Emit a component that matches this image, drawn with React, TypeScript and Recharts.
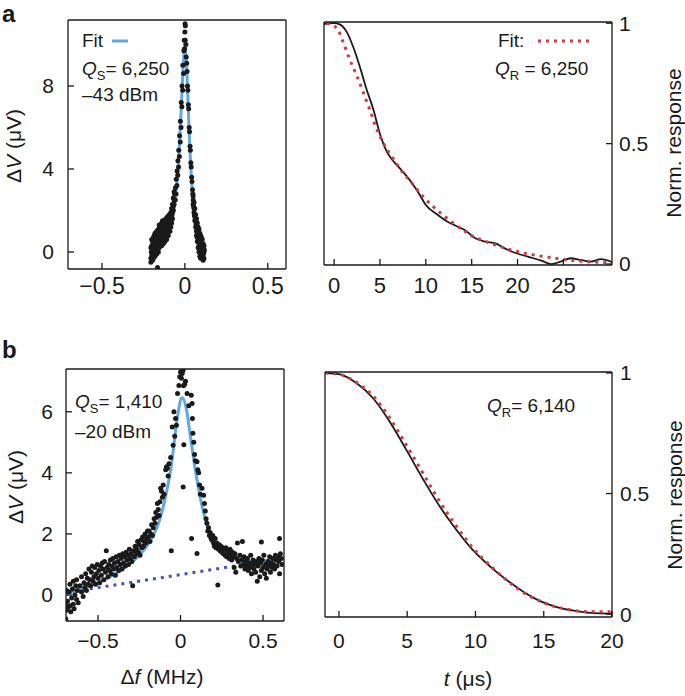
import React from "react";
import { ComposedChart, Scatter, Line, XAxis, YAxis } from "recharts";

type Pt = [number, number];

// ---- panel a, left: weak drive (-43 dBm), dV vs detuning (MHz)
const weakDrivePoints: Pt[] = [
  [-0.205, -0.3], [-0.205, 0.2], [-0.205, -0.5],
  [-0.2, 0.3], [-0.2, -0.2], [-0.2, 0.6],
  [-0.195, -0.4], [-0.195, 0.1], [-0.195, 0.5],
  [-0.19, 0.0], [-0.19, 0.7], [-0.19, -0.3],
  [-0.185, 0.4], [-0.185, -0.1], [-0.185, 0.8],
  [-0.18, 0.2], [-0.18, 0.9], [-0.18, -0.2],
  [-0.175, 0.5], [-0.175, 0.0], [-0.175, 0.7],
  [-0.17, 0.3], [-0.17, 1.0], [-0.17, -0.1],
  [-0.165, -0.75], [-0.165, 0.6], [-0.165, 0.2],
  [-0.16, 0.4], [-0.16, 1.1], [-0.16, 0.0],
  [-0.155, 0.8], [-0.155, 0.2], [-0.155, 1.3],
  [-0.15, 0.5], [-0.15, 1.0], [-0.15, 0.3],
  [-0.145, 0.9], [-0.145, 0.4], [-0.145, 1.2],
  [-0.14, 0.6], [-0.14, 1.4], [-0.14, 0.3],
  [-0.135, 1.0], [-0.135, 1.5], [-0.135, 0.5],
  [-0.13, 0.7], [-0.13, 1.2], [-0.13, 0.4],
  [-0.125, 1.1], [-0.125, 0.6], [-0.125, 1.5],
  [-0.12, 0.8], [-0.12, 1.3], [-0.12, 0.5],
  [-0.115, 1.2], [-0.115, 0.7], [-0.115, 1.6],
  [-0.11, 0.9], [-0.11, 1.4], [-0.11, 0.6],
  [-0.105, 1.3], [-0.105, 0.8], [-0.105, 1.7],
  [-0.1, 1.1], [-0.1, 1.6], [-0.1, 0.8],
  [-0.095, 1.4], [-0.095, 1.0], [-0.095, 1.8],
  [-0.09, 1.2], [-0.09, 1.7], [-0.09, 1.0],
  [-0.085, 1.5], [-0.085, 1.9], [-0.085, 1.2],
  [-0.08, 1.7], [-0.08, 1.4], [-0.08, 2.1],
  [-0.075, 1.9], [-0.075, 2.3], [-0.075, 1.6],
  [-0.07, 2.2], [-0.07, 2.0], [-0.07, 2.6],
  [-0.065, 2.5], [-0.065, 2.3], [-0.065, 2.9],
  [-0.2025, 0.0], [-0.1975, -0.1], [-0.1925, 0.35], [-0.1875, 0.15], [-0.1825, 0.55],
  [-0.1775, 0.3], [-0.1725, 0.6], [-0.1675, 0.45], [-0.1625, 0.75], [-0.1575, 0.5],
  [-0.1525, 0.7], [-0.1475, 0.65], [-0.1425, 0.95], [-0.1375, 0.8], [-0.1325, 0.95],
  [-0.1275, 0.9], [-0.1225, 1.05], [-0.1175, 1.0], [-0.1125, 1.1], [-0.1075, 1.05],
  [-0.1025, 1.35], [-0.0975, 1.25], [-0.0925, 1.45], [-0.0875, 1.4], [-0.0825, 1.65],
  [-0.0775, 1.8], [-0.0725, 2.05],
  [-0.062, 2.8], [-0.058, 2.5],
  [-0.057, 3.1], [-0.053, 2.8],
  [-0.052, 3.5], [-0.048, 3.2],
  [-0.047, 3.9], [-0.043, 3.7],
  [-0.042, 4.4], [-0.038, 4.1],
  [-0.037, 4.9], [-0.033, 4.6],
  [-0.032, 5.6], [-0.028, 5.3],
  [-0.027, 6.3], [-0.023, 6.0],
  [-0.022, 7.2], [-0.018, 7.0],
  [-0.017, 8.0], [-0.013, 7.8],
  [-0.012, 9.0], [-0.008, 8.6],
  [-0.006, 9.7], [-0.004, 10.2],
  [0, 10.6], [0.002, 10.2], [0.001, 11.0], [-0.002, 9.8], [0.003, 10.9],
  [0.006, 10.0], [0.008, 9.4],
  [0.011, 9.1], [0.013, 8.7],
  [0.016, 8.0], [0.018, 7.8],
  [0.021, 7.1], [0.023, 6.9],
  [0.026, 6.0], [0.028, 5.8],
  [0.031, 5.1], [0.033, 4.9],
  [0.036, 4.3], [0.038, 4.1],
  [0.041, 3.6], [0.043, 3.4],
  [0.046, 3.0], [0.048, 2.8],
  [0.05, 2.5], [0.05, 2.3], [0.05, 2.7],
  [0.055, 2.1], [0.055, 1.9], [0.055, 2.4],
  [0.06, 1.8], [0.06, 1.5], [0.06, 2.1],
  [0.065, 1.5], [0.065, 1.2], [0.065, 1.8],
  [0.07, 1.3], [0.07, 1.0], [0.07, 1.6], [0.07, 0.8],
  [0.075, 1.1], [0.075, 0.7], [0.075, 1.4], [0.075, 0.5],
  [0.08, 0.9], [0.08, 0.5], [0.08, 1.2], [0.08, 0.2],
  [0.085, 0.7], [0.085, 0.3], [0.085, 1.1], [0.085, 0.0],
  [0.09, 0.6], [0.09, 0.1], [0.09, 0.9], [0.09, -0.2],
  [0.095, 0.5], [0.095, 0.0], [0.095, 0.8], [0.095, -0.3],
  [0.1, 0.4], [0.1, -0.2], [0.1, 0.7], [0.1, 0.1],
  [0.105, 0.3], [0.105, -0.3], [0.105, 0.6], [0.105, 0.0],
  [0.11, 0.2], [0.11, -0.4], [0.11, 0.4],
  [0.115, 0.0], [0.115, -0.3], [0.115, 0.3],
  [0.0525, 2.2], [0.0575, 1.75], [0.0625, 1.6], [0.0675, 1.35], [0.0725, 1.1],
  [0.0775, 0.9], [0.0825, 0.7], [0.0875, 0.45], [0.0925, 0.35], [0.0975, 0.25],
  [0.1025, 0.15], [0.1075, 0.1], [0.1125, -0.1], [0.1175, 0.1],
];

const weakDriveFit: Pt[] = [
  [-0.193, 0.0], [-0.18, 0.12], [-0.16, 0.3], [-0.14, 0.5], [-0.12, 0.75],
  [-0.1, 1.05], [-0.08, 1.6], [-0.06, 2.5], [-0.04, 4.2], [-0.03, 5.6],
  [-0.02, 7.3], [-0.01, 9.0], [0.0, 9.9], [0.01, 9.0], [0.02, 7.0],
  [0.03, 5.0], [0.04, 3.5], [0.05, 2.4], [0.06, 1.7], [0.07, 1.2],
  [0.08, 0.85], [0.09, 0.6], [0.1, 0.42], [0.108, 0.3],
];

// ---- panel a, right: ring-down, normalised response vs t (us)
const weakRingdown: Pt[] = [
  [-1.1, 0.996], [0, 1.0], [0.6, 0.995], [1.37, 0.964], [2.1, 0.9],
  [2.8, 0.82], [3.5, 0.73], [4.3, 0.64], [5.0, 0.54], [5.7, 0.47],
  [6.4, 0.43], [7.1, 0.4], [7.8, 0.37], [8.6, 0.33], [9.3, 0.29],
  [10.0, 0.245], [11.1, 0.21], [12.2, 0.18], [13.2, 0.16], [14.3, 0.14],
  [15.4, 0.107], [16.5, 0.093], [17.6, 0.086], [18.6, 0.065], [19.7, 0.047],
  [21.2, 0.03], [22.6, 0.014], [23.7, 0.0], [24.7, 0.01], [25.8, 0.024],
  [26.9, 0.017], [28.0, 0.01], [29.1, 0.02], [30.3, 0.008],
];

const weakRingdownFit: Pt[] = [
  [-0.8, 1.0], [0.3, 0.98], [1.0, 0.92], [1.7, 0.85], [2.5, 0.78],
  [3.2, 0.71], [3.9, 0.64], [4.6, 0.565], [5.4, 0.5], [6.4, 0.44],
  [7.5, 0.38], [8.6, 0.33], [9.7, 0.28], [10.8, 0.238], [11.9, 0.203],
  [13.0, 0.169], [14.1, 0.14], [15.2, 0.113], [16.3, 0.097], [17.6, 0.079],
  [19.1, 0.061], [20.5, 0.047], [21.9, 0.037], [23.4, 0.028], [24.8, 0.02],
  [26.2, 0.014], [27.6, 0.01], [29.8, 0.006],
];

// ---- panel b, left: strong drive (-20 dBm)
const strongDrivePoints: Pt[] = [
  [-0.695, -0.3], [-0.69, -0.5], [-0.685, -0.2], [-0.68, -0.4], [-0.675, 0.1],
  [-0.67, -0.35], [-0.665, -0.55], [-0.66, -0.1], [-0.655, 0.2], [-0.65, -0.3],
  [-0.645, -0.45], [-0.64, 0.0], [-0.635, 0.3], [-0.63, -0.15], [-0.625, 0.15],
  [-0.62, -0.25], [-0.695, -0.78], [-0.69, 0.15], [-0.67, 0.35], [-0.65, 0.45],
  [-0.63, 0.5], [-0.61, 0.3], [-0.6, 0.6], [-0.6, 0.1], [-0.59, -0.05],
  [-0.585, 0.4], [-0.58, 0.25], [-0.575, 0.7], [-0.57, 0.15], [-0.565, 0.55],
  [-0.56, 0.35], [-0.555, 0.85], [-0.55, 0.5], [-0.545, 0.3], [-0.54, 0.75],
  [-0.535, 0.95], [-0.53, 0.45], [-0.525, 0.6], [-0.52, 0.9], [-0.515, 0.35],
  [-0.51, 0.7], [-0.505, 1.0], [-0.5, 0.55], [-0.495, 0.8], [-0.49, 0.4],
  [-0.485, 0.95], [-0.48, 0.65], [-0.475, 1.05], [-0.47, 0.85], [-0.465, 0.5],
  [-0.46, 1.1], [-0.455, 0.75], [-0.45, 1.45], [-0.445, 0.9], [-0.44, 0.6],
  [-0.435, 1.0], [-0.43, 0.8], [-0.425, 1.15], [-0.42, 0.7], [-0.415, 0.95],
  [-0.41, 1.2], [-0.405, 0.85], [-0.4, 1.05], [-0.395, 0.65], [-0.39, 1.25],
  [-0.385, 0.9], [-0.38, 1.1], [-0.375, 0.8], [-0.37, 1.3], [-0.365, 1.0],
  [-0.36, 1.2], [-0.355, 0.85], [-0.35, 1.35], [-0.345, 1.05], [-0.34, 1.25],
  [-0.335, 0.95], [-0.33, 1.4], [-0.325, 1.15], [-0.32, 1.3], [-0.315, 1.0],
  [-0.31, 1.5], [-0.305, 1.2], [-0.3, 1.35], [-0.295, 1.1], [-0.29, 0.3],
  [-0.285, 1.45], [-0.28, 1.25], [-0.275, 1.6], [-0.27, 1.35], [-0.265, 1.5],
  [-0.26, 1.75], [-0.255, 1.4], [-0.25, 1.65], [-0.245, 1.3], [-0.24, 1.8],
  [-0.235, 1.55], [-0.23, 1.9], [-0.225, 1.6], [-0.22, 1.75], [-0.215, 2.0],
  [-0.21, 1.7], [-0.205, 1.85], [-0.2, 2.1],
  [-0.195, 1.9], [-0.19, 2.1], [-0.185, 1.75], [-0.18, 2.0], [-0.175, 2.3],
  [-0.17, 1.95], [-0.165, 2.2], [-0.16, 2.5], [-0.155, 2.35], [-0.15, 2.7],
  [-0.145, 2.55], [-0.14, 3.0], [-0.135, 2.8], [-0.13, 2.6], [-0.125, 3.05],
  [-0.12, 3.5], [-0.115, 3.4], [-0.11, 3.2], [-0.105, 3.6], [-0.1, 3.3],
  [-0.09, 4.1], [-0.085, 4.2], [-0.08, 4.15], [-0.075, 3.9], [-0.07, 4.3],
  [-0.06, 4.5], [-0.056, 1.45], [-0.05, 5.5], [-0.045, 4.9], [-0.04, 6.0],
  [-0.035, 5.2], [-0.03, 5.78], [-0.025, 5.56], [-0.018, 6.6], [-0.01, 6.86],
  [-0.005, 7.15], [0.0, 7.3], [0.005, 7.1], [0.01, 7.25], [0.015, 7.35],
  [0.018, 6.85], [0.016, 3.54], [0.02, 4.92], [0.025, 6.9], [0.03, 7.0],
  [0.04, 6.6], [0.05, 6.2], [0.065, 6.54], [0.07, 6.27], [0.072, 5.78],
  [0.075, 5.3], [0.08, 5.0], [0.067, 1.85], [0.085, 4.6], [0.09, 4.4],
  [0.1, 4.36], [0.105, 4.1], [0.1, 1.36], [0.11, 4.0], [0.115, 3.6],
  [0.12, 3.3], [0.13, 3.5], [0.14, 3.27], [0.145, 3.0], [0.15, 2.75],
  [0.155, 2.5], [0.16, 2.35], [0.165, 2.1], [0.17, 2.2], [0.175, 1.95],
  [0.18, 2.05], [0.185, 1.85], [0.19, 1.8], [0.195, 1.95], [0.2, 1.7],
  [0.205, 1.6], [0.21, 1.85], [0.215, 1.55], [0.22, 1.7], [0.226, 0.33],
  [0.23, 1.5], [0.235, 1.65], [0.24, 1.45], [0.245, 1.6], [0.25, 1.4],
  [0.255, 1.55], [0.26, 1.35], [0.265, 1.5], [0.27, 1.3], [0.275, 1.55],
  [0.28, 1.25], [0.285, 1.45], [0.29, 1.35], [0.295, 1.2], [0.3, 1.5],
  [0.305, 1.3], [0.31, 1.15], [0.315, 1.4], [0.32, 1.25], [0.325, 0.9],
  [0.33, 1.35], [0.335, 0.75], [0.34, 1.2], [0.345, 1.7], [0.35, 1.1],
  [0.36, 1.3], [0.365, 0.95], [0.37, 1.15], [0.375, 1.75], [0.38, 1.0],
  [0.385, 1.25], [0.39, 0.85], [0.395, 1.1], [0.4, 0.95], [0.405, 1.2],
  [0.41, 0.8], [0.415, 1.05], [0.42, 0.9], [0.425, 1.3], [0.43, 0.7],
  [0.435, 1.0], [0.44, 1.15], [0.445, 0.85], [0.45, 1.0], [0.455, 0.75],
  [0.46, 1.1], [0.465, 0.45], [0.47, 0.95], [0.475, 1.2], [0.48, 0.6],
  [0.485, 1.05], [0.49, 0.8], [0.49, 1.74], [0.495, 1.15], [0.5, 0.9],
  [0.505, 1.3], [0.51, 0.7], [0.515, 1.0], [0.52, 0.55], [0.525, 0.85],
  [0.53, 1.1], [0.535, 0.95], [0.54, 1.25], [0.545, 0.75], [0.55, 1.05],
  [0.555, 0.9], [0.56, 1.2], [0.565, 1.0], [0.57, 0.85], [0.575, 1.3],
  [0.58, 1.15], [0.585, 0.95], [0.59, 1.25], [0.595, 1.1], [0.6, 0.7],
  [0.605, 1.35], [0.61, 1.2], [0.615, 1.0], [0.6, 1.85],
];

const strongDriveFit: Pt[] = [
  [-0.694, 0.05], [-0.59, 0.22], [-0.49, 0.43], [-0.39, 0.71], [-0.29, 1.09],
  [-0.23, 1.42], [-0.17, 1.9], [-0.127, 2.45], [-0.087, 3.32], [-0.057, 4.2],
  [-0.027, 5.5], [-0.012, 6.05], [0.003, 6.43], [0.013, 6.46], [0.033, 6.15],
  [0.063, 5.07], [0.093, 3.98], [0.123, 3.1], [0.163, 2.23], [0.213, 1.69],
  [0.273, 1.36], [0.353, 1.18], [0.433, 1.11], [0.513, 1.12], [0.627, 1.21],
];

const strongDriveBackground: Pt[] = [[-0.694, 0.08], [0.627, 1.2]];

// ---- panel b, right: ring-down
const strongRingdown: Pt[] = [
  [-1.0, 0.999], [0, 0.995], [1.3, 0.957], [2.5, 0.895], [3.7, 0.8],
  [4.95, 0.68], [6.2, 0.556], [7.4, 0.445], [8.6, 0.35], [9.8, 0.266],
  [11.1, 0.196], [12.3, 0.141], [13.5, 0.093], [14.7, 0.055], [15.9, 0.03],
  [17.2, 0.014], [18.4, 0.005], [20, 0.002],
];

const strongRingdownFit: Pt[] = [
  [-1.0, 1.0], [0, 0.995], [1.3, 0.96], [2.5, 0.905], [3.7, 0.815],
  [4.95, 0.7], [6.2, 0.58], [7.4, 0.465], [8.6, 0.365], [9.8, 0.275],
  [11.1, 0.2], [12.3, 0.14], [13.5, 0.09], [14.7, 0.055], [15.9, 0.03],
  [17.2, 0.015], [18.4, 0.01], [20, 0.01],
];

const freqTicks = [-0.5, 0, 0.5];
const weakVoltTicks = [0, 4, 8];
const strongVoltTicks = [0, 2, 4, 6];
const weakTimeTicks = [0, 5, 10, 15, 20, 25];
const strongTimeTicks = [0, 5, 10, 15, 20];
const normTicks = [0, 0.5, 1];

const toRows = (pts: Pt[]) => pts.map(([x, v]) => ({ x, v }));

const FONT = '"Liberation Sans", Arial, Helvetica, sans-serif';
const INK = "#1a1a1a";
const FIT_BLUE = "#62a8de";
const FIT_RED = "#d23a3f";
const BASE_BLUE = "#4a53b0";

const fmt = (v: number) => (v < 0 ? `\u2212${Math.abs(v)}` : `${v}`);

type Frame = { x0: number; y0: number; x1: number; y1: number };

const PAD_L = 70;
const PAD_R = 70;
const PAD_T = 30;
const PAD_B = 50;

function Panel(props: {
  frame: Frame;
  xDomain: [number, number];
  yDomain: [number, number];
  xTicks: number[];
  yTicks: number[];
  yRight: boolean;
  xMargin: number;
  yMargin: number;
  xFont: number;
  children: React.ReactNode;
}) {
  const { frame, xDomain, yDomain, xTicks, yTicks, yRight, xMargin, yMargin, xFont } = props;
  const w = frame.x1 - frame.x0 + PAD_L + PAD_R;
  const h = frame.y1 - frame.y0 + PAD_T + PAD_B;
  const line = { stroke: INK, strokeWidth: 1.3 };
  const tickStyle = { fontSize: 21, fill: INK, fontFamily: FONT };
  const xTickStyle = { ...tickStyle, fontSize: xFont };
  return (
    <div style={{ position: "absolute", left: frame.x0 - PAD_L, top: frame.y0 - PAD_T }}>
      <ComposedChart width={w} height={h} margin={{ top: 0, right: 0, bottom: 0, left: 0 }}>
        <XAxis
          xAxisId="b" type="number" dataKey="x" domain={xDomain} allowDataOverflow
          ticks={xTicks} interval={0} orientation="bottom" height={PAD_B}
          tickSize={-6} tickMargin={xMargin} tickFormatter={fmt} tick={xTickStyle}
          axisLine={line} tickLine={line}
        />
        <XAxis
          xAxisId="t" type="number" dataKey="x" domain={xDomain} allowDataOverflow
          ticks={xTicks} interval={0} orientation="top" height={PAD_T}
          tickSize={-6} tick={false} axisLine={line} tickLine={line}
        />
        <YAxis
          yAxisId="l" type="number" dataKey="v" domain={yDomain} allowDataOverflow
          ticks={yTicks} interval={0} orientation="left" width={PAD_L}
          tickSize={-6} tickMargin={yRight ? 0 : yMargin} tickFormatter={fmt}
          tick={yRight ? false : tickStyle} axisLine={line} tickLine={line}
        />
        <YAxis
          yAxisId="r" type="number" dataKey="v" domain={yDomain} allowDataOverflow
          ticks={yTicks} interval={0} orientation="right" width={PAD_R}
          tickSize={-6} tickMargin={yRight ? yMargin : 0} tickFormatter={fmt}
          tick={yRight ? tickStyle : false} axisLine={line} tickLine={line}
        />
        {props.children}
      </ComposedChart>
    </div>
  );
}

const dot = (r: number) => (p: any) => <circle cx={p.cx} cy={p.cy} r={r} fill={INK} />;

export default function App() {
  return (
    <div style={{ position: "absolute", left: 0, top: 0, width: 685, height: 696, background: "#fff", fontFamily: FONT }}>
      <Panel frame={{ x0: 68, y0: 20, x1: 286, y1: 269 }} xDomain={[-0.705, 0.61]} yDomain={[-0.82, 11.18]}
        xTicks={freqTicks} yTicks={weakVoltTicks} yRight={false} xMargin={15} yMargin={20} xFont={23}>
        <Scatter xAxisId="b" yAxisId="l" data={toRows(weakDrivePoints)} dataKey="v" shape={dot(2.5)} isAnimationActive={false} />
        <Line xAxisId="b" yAxisId="l" data={toRows(weakDriveFit)} dataKey="v" type="monotone" stroke={FIT_BLUE}
          strokeWidth={3} dot={false} isAnimationActive={false} />
      </Panel>

      <Panel frame={{ x0: 324, y0: 22, x1: 612, y1: 265 }} xDomain={[-1.1, 30.3]} yDomain={[-0.004, 1.005]}
        xTicks={weakTimeTicks} yTicks={normTicks} yRight={true} xMargin={18} yMargin={13} xFont={22}>
        <Line xAxisId="b" yAxisId="l" data={toRows(weakRingdown)} dataKey="v" type="monotone" stroke={INK}
          strokeWidth={1.8} dot={false} isAnimationActive={false} />
        <Line xAxisId="b" yAxisId="l" data={toRows(weakRingdownFit)} dataKey="v" type="monotone" stroke={FIT_RED}
          strokeWidth={3} strokeDasharray="3 5" dot={false} isAnimationActive={false} />
      </Panel>

      <Panel frame={{ x0: 66, y0: 369, x1: 284, y1: 621 }} xDomain={[-0.694, 0.627]} yDomain={[-0.85, 7.4]}
        xTicks={freqTicks} yTicks={strongVoltTicks} yRight={false} xMargin={18} yMargin={19} xFont={21}>
        <Scatter xAxisId="b" yAxisId="l" data={toRows(strongDrivePoints)} dataKey="v" shape={dot(2.5)} isAnimationActive={false} />
        <Line xAxisId="b" yAxisId="l" data={toRows(strongDriveBackground)} dataKey="v" type="linear" stroke={BASE_BLUE}
          strokeWidth={3} strokeDasharray="3 5" dot={false} isAnimationActive={false} />
        <Line xAxisId="b" yAxisId="l" data={toRows(strongDriveFit)} dataKey="v" type="monotone" stroke={FIT_BLUE}
          strokeWidth={3} dot={false} isAnimationActive={false} />
      </Panel>

      <Panel frame={{ x0: 325, y0: 372, x1: 612, y1: 617 }} xDomain={[-1.02, 20]} yDomain={[-0.012, 1.004]}
        xTicks={strongTimeTicks} yTicks={normTicks} yRight={true} xMargin={22} yMargin={14} xFont={21}>
        <Line xAxisId="b" yAxisId="l" data={toRows(strongRingdown)} dataKey="v" type="monotone" stroke={INK}
          strokeWidth={1.8} dot={false} isAnimationActive={false} />
        <Line xAxisId="b" yAxisId="l" data={toRows(strongRingdownFit)} dataKey="v" type="monotone" stroke={FIT_RED}
          strokeWidth={3} strokeDasharray="3 5" dot={false} isAnimationActive={false} />
      </Panel>

      {/* labels, legends and axis titles */}
      <svg width={685} height={696} style={{ position: "absolute", left: 0, top: 0, pointerEvents: "none" }}
        fontFamily={FONT} fill={INK}>
        <text x={2} y={22} fontSize={24} fontWeight="bold">a</text>
        <text x={2} y={358} fontSize={24} fontWeight="bold">b</text>

        <text x={82} y={47} fontSize={19}>Fit</text>
        <line x1={112} x2={128} y1={41} y2={41} stroke={FIT_BLUE} strokeWidth={3} />
        <text x={82} y={75} fontSize={19}>
          <tspan fontStyle="italic">Q</tspan><tspan fontSize={13} dy={5}>S</tspan><tspan dy={-5}>= 6,250</tspan>
        </text>
        <text x={82} y={101} fontSize={19}>–43 dBm</text>

        <text x={498} y={47} fontSize={19}>Fit:</text>
        <line x1={538} x2={594} y1={41} y2={41} stroke={FIT_RED} strokeWidth={3} strokeDasharray="3 5" />
        <text x={495} y={75} fontSize={19}>
          <tspan fontStyle="italic">Q</tspan><tspan fontSize={13} dy={5}>R</tspan><tspan dy={-5}> = 6,250</tspan>
        </text>

        <text x={75} y={408} fontSize={19}>
          <tspan fontStyle="italic">Q</tspan><tspan fontSize={13} dy={5}>S</tspan><tspan dy={-5}>= 1,410</tspan>
        </text>
        <text x={75} y={438} fontSize={19}>–20 dBm</text>

        <text x={487} y={412} fontSize={19}>
          <tspan fontStyle="italic">Q</tspan><tspan fontSize={13} dy={5}>R</tspan><tspan dy={-5}>= 6,140</tspan>
        </text>

        <text transform="translate(21,146) rotate(-90)" textAnchor="middle" fontSize={21}>
          Δ<tspan fontStyle="italic">V</tspan> (μV)
        </text>
        <text transform="translate(23,487) rotate(-90)" textAnchor="middle" fontSize={21}>
          Δ<tspan fontStyle="italic">V</tspan> (μV)
        </text>
        <text transform="translate(681,143) rotate(-90)" textAnchor="middle" fontSize={21}>Norm. response</text>
        <text transform="translate(682,495) rotate(-90)" textAnchor="middle" fontSize={21}>Norm. response</text>
        <text x={162} y={684} textAnchor="middle" fontSize={21}>
          Δ<tspan fontStyle="italic">f</tspan> (MHz)
        </text>
        <text x={468} y={686} textAnchor="middle" fontSize={21}>
          <tspan fontStyle="italic">t</tspan> (μs)
        </text>
      </svg>
    </div>
  );
}
